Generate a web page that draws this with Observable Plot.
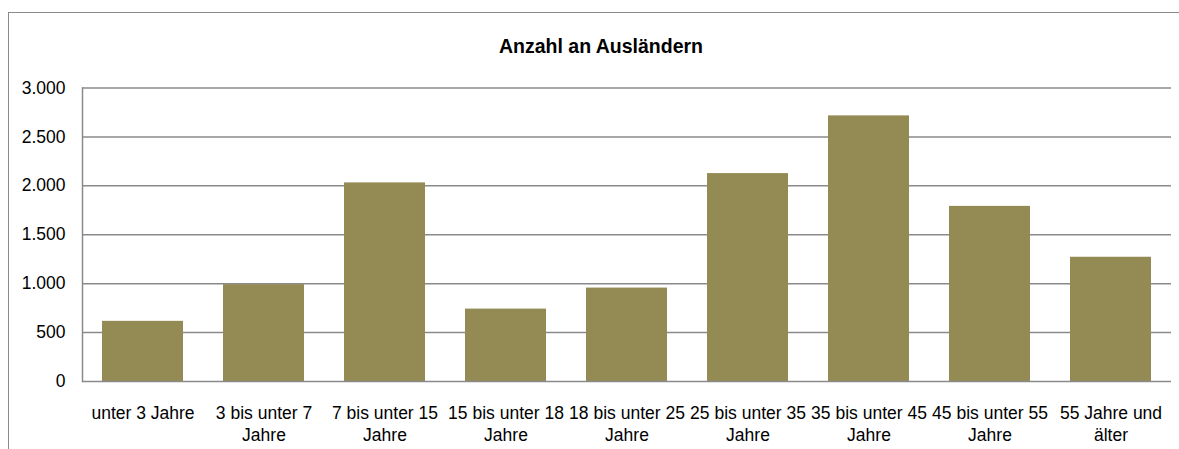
<!DOCTYPE html>
<html><head><meta charset="utf-8">
<script src="https://cdn.jsdelivr.net/npm/d3@7"></script>
<script src="https://cdn.jsdelivr.net/npm/@observablehq/plot@0.6"></script>
<style>
html,body{margin:0;padding:0;overflow:hidden;background:#fff;}
#chart{position:relative;width:1179px;height:449px;font-family:"Liberation Sans",Arial,sans-serif;}
#frame{position:absolute;left:8px;top:12px;width:1200px;height:500px;border-top:1.5px solid #8a8a8a;border-left:1.5px solid #8a8a8a;}
#title{position:absolute;left:0;width:1202px;top:36.5px;text-align:center;font-weight:bold;font-size:19.5px;line-height:19.5px;color:#000;}
#plot{position:absolute;left:0;top:0;}
</style></head>
<body><div id="chart"><div id="frame"></div><div id="title"></div><div id="plot"></div></div>
<script>
const title = "Anzahl an Ausländern";
const categories = ["unter 3 Jahre","3 bis unter 7 Jahre","7 bis unter 15 Jahre","15 bis unter 18 Jahre","18 bis unter 25 Jahre","25 bis unter 35 Jahre","35 bis unter 45 Jahre","45 bis unter 55 Jahre","55 Jahre und älter"];
const values = [615, 990, 2030, 740, 955, 2125, 2715, 1790, 1270];
const tickLabels = ["unter 3 Jahre","3 bis unter 7\nJahre","7 bis unter 15\nJahre","15 bis unter 18\nJahre","18 bis unter 25\nJahre","25 bis unter 35\nJahre","35 bis unter 45\nJahre","45 bis unter 55\nJahre","55 Jahre und\nälter"];
const yTicks = [0, 500, 1000, 1500, 2000, 2500, 3000];

document.getElementById("title").textContent = title;
const de = d3.formatLocale({decimal: ",", thousands: ".", grouping: [3], currency: ["", "\u00a0€"]});
const fmt = de.format(",");
const data = categories.map((c, i) => ({category: c, value: values[i]}));
const labelOf = new Map(categories.map((c, i) => [c, tickLabels[i]]));

const chart = Plot.plot({
  width: 1179, height: 449,
  marginLeft: 82, marginRight: 8, marginTop: 87.5, marginBottom: 68,
  style: {fontFamily: "Liberation Sans, Arial, sans-serif", fontSize: "17.5px", color: "#000", background: "transparent", overflow: "visible"},
  x: {domain: categories, paddingInner: 1/3, paddingOuter: 1/6, label: null},
  y: {domain: [0, 3000], label: null},
  marks: [
    Plot.ruleY(yTicks.filter(d => d > 0), {stroke: "#8a8a8a", strokeWidth: 1.5}),
    Plot.barY(data, {x: "category", y: "value", fill: "#948A54"}),
    Plot.ruleY([0], {stroke: "#8a8a8a", strokeWidth: 1.5}),
    Plot.frame({anchor: "left", stroke: "#8a8a8a", strokeWidth: 1.5}),
    Plot.axisX({tickSize: 0, tickPadding: 21.6, tickFormat: d => labelOf.get(d), lineHeight: 1.26, fontSize: 17.5, label: null}),
    Plot.axisY({ticks: yTicks, tickSize: 0, tickPadding: 17, tickFormat: fmt, fontSize: 17.5, label: null})
  ]
});
document.getElementById("plot").appendChild(chart);
</script>
</body></html>
